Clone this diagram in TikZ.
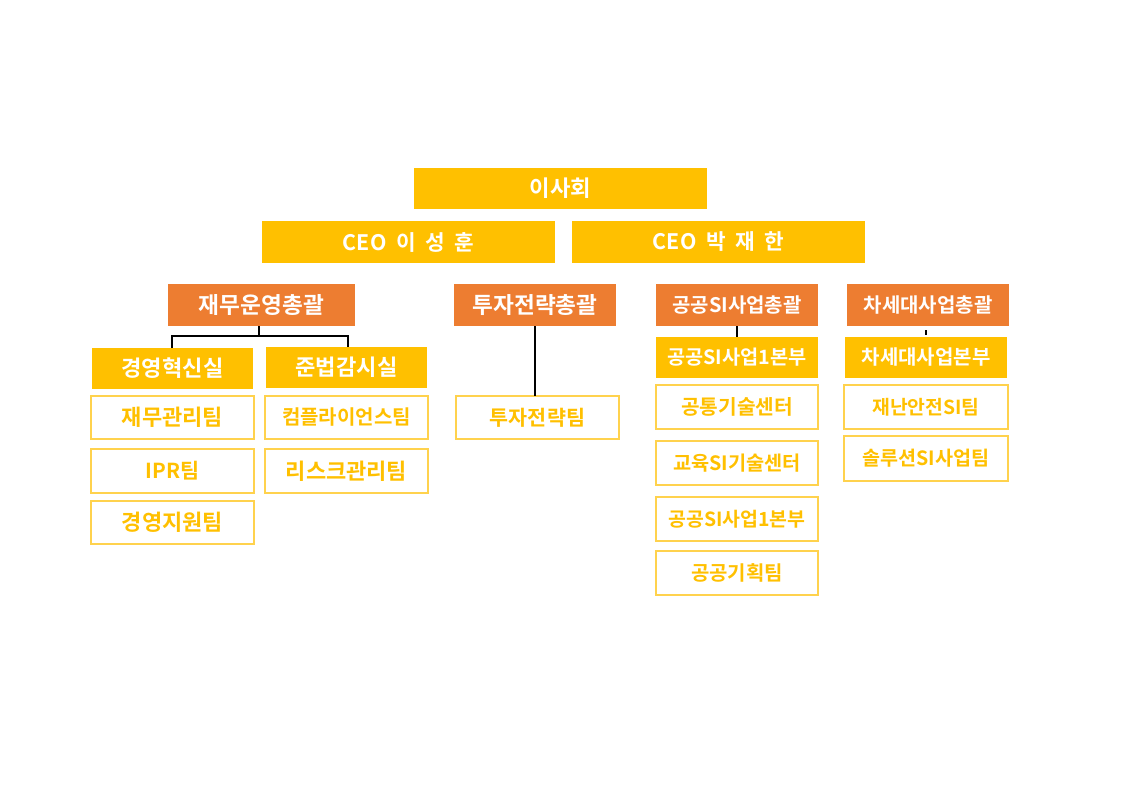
\documentclass[tikz,border=0pt]{standalone}
\usepackage{fontspec}
\setmainfont{Noto Sans CJK KR}[BoldFont={Noto Sans CJK KR Bold}]
\definecolor{ylw}{HTML}{FFC000}
\definecolor{org}{HTML}{ED7D31}
\definecolor{ylwline}{HTML}{FFD24D}
\newcommand\fs[1]{\bfseries\fontsize{#1}{#1}\selectfont}
\newcommand\orgbox[7]{\node[#2, minimum width={(#5-#3)*0.75pt}, minimum height={(#6-#4)*0.75pt}] (#1) at ({(#3+#5)/2},{(#4+#6)/2}) {#7};}
\newcommand\wsp{\hspace{0.45em}}
\begin{document}
\begin{tikzpicture}[x=0.75pt,y=-0.75pt,
  basebox/.style={inner sep=0pt, outer sep=0pt, font=\fs{16pt}},
  ybox/.style={basebox, fill=ylw, text=white},
  obox/.style={basebox, fill=org, text=white},
  wbox/.style={basebox, draw=ylwline, line width=1.1pt, fill=white, text=ylw},
  conn/.style={draw=black, line width=1.2pt}]
\useasboundingbox (0,0) rectangle (1122,793);
\fill[white] (0,0) rectangle (1122,793);
% top levels
\orgbox{board}{ybox, font=\fs{16.7pt}}{414}{168}{707}{209}{이사회}
\orgbox{ceo1}{ybox, font=\fs{16pt}}{262}{221}{555}{263}{CEO\wsp 이\wsp 성\wsp 훈}
\orgbox{ceo2}{ybox, font=\fs{16pt}}{572}{221}{865}{263}{CEO\wsp 박\wsp 재\wsp 한}
% general divisions
\orgbox{g1}{obox, font=\fs{17pt}}{168}{284}{355}{326}{재무운영총괄}
\orgbox{g2}{obox, font=\fs{17pt}}{454}{284}{616}{326}{투자전략총괄}
\orgbox{g3}{obox, font=\fs{15pt}}{656}{284}{818}{326}{공공SI사업총괄}
\orgbox{g4}{obox, font=\fs{15pt}}{847}{284}{1009}{326}{차세대사업총괄}
% departments
\orgbox{d1}{ybox, font=\fs{16.6pt}}{92}{348}{253}{389}{경영혁신실}
\orgbox{d2}{ybox, font=\fs{16.6pt}}{266}{347}{427}{388}{준법감시실}
\orgbox{d3}{ybox, font=\fs{14.8pt}}{656}{337}{818}{378}{공공SI사업1본부}
\orgbox{d4}{ybox, font=\fs{15pt}}{845}{337}{1007}{378}{차세대사업본부}
% teams
\orgbox{t11}{wbox, font=\fs{16.5pt}}{91}{396}{254}{439}{재무관리팀}
\orgbox{t12}{wbox, font=\fs{15.5pt}}{91}{449}{254}{493}{IPR팀}
\orgbox{t13}{wbox, font=\fs{16.5pt}}{91}{501}{254}{544}{경영지원팀}
\orgbox{t21}{wbox, font=\fs{15pt}}{265}{396}{428}{439}{컴플라이언스팀}
\orgbox{t22}{wbox, font=\fs{16.5pt}}{265}{449}{428}{493}{리스크관리팀}
\orgbox{t31}{wbox, font=\fs{15.5pt}}{456}{396}{619}{439}{투자전략팀}
\orgbox{t41}{wbox, font=\fs{15.2pt}}{656}{385}{818}{429}{공통기술센터}
\orgbox{t42}{wbox, font=\fs{14.8pt}}{656}{441}{818}{485}{교육SI기술센터}
\orgbox{t43}{wbox, font=\fs{14.6pt}}{656}{497}{818}{541}{공공SI사업1본부}
\orgbox{t44}{wbox, font=\fs{15pt}}{656}{551}{818}{595}{공공기획팀}
\orgbox{t51}{wbox, font=\fs{14.5pt}}{844}{385}{1008}{429}{재난안전SI팀}
\orgbox{t52}{wbox, font=\fs{14.7pt}}{844}{436}{1008}{481}{솔루션SI사업팀}
% connectors
\coordinate (bl) at (172,336);
\coordinate (br) at (348,336);
\coordinate (stem) at (259,336);
\draw[conn] (g1.south -| stem) -- (stem);
\draw[conn] (bl |- d1.north) -- (bl) -- (br) -- (br |- d2.north);
\draw[conn] (g2.south) -- (g2.south |- t31.north);
\draw[conn] (g3.south) -- (d3.north);
\coordinate (tk1) at (926,330);
\coordinate (tk2) at (926,335);
\draw[conn] (tk1) -- (tk2);
\end{tikzpicture}
\end{document}
